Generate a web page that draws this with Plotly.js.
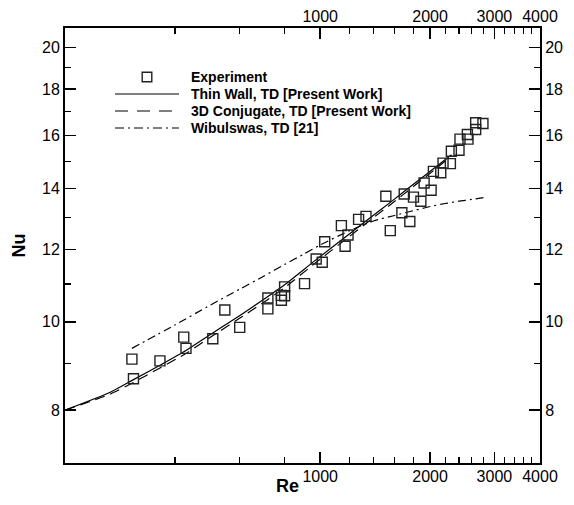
<!DOCTYPE html>
<html>
<head>
<meta charset="utf-8">
<script src="https://cdn.plot.ly/plotly-3.0.1.min.js"></script>
<style>html,body{margin:0;padding:0;background:#fff;}#chart{width:574px;height:505px;}</style>
</head>
<body>
<div id="chart"></div>
<script>
// Experimental data
var expRe = [305, 308, 364, 423, 429, 508, 548, 602, 719, 719, 783, 783, 799, 799, 906, 975, 1013, 1029, 1143, 1170, 1192, 1274, 1335, 1556, 1513, 1674, 1699, 1760, 1801, 1887, 1926, 2013, 2042, 2139, 2170, 2273, 2287, 2400, 2415, 2540, 2530, 2666, 2666, 2791];
var expNu = [9.10, 8.66, 9.06, 9.62, 9.35, 9.58, 10.30, 9.86, 10.62, 10.33, 10.69, 10.56, 10.92, 10.68, 11.01, 11.72, 11.62, 12.24, 12.75, 12.10, 12.45, 12.95, 13.05, 12.59, 13.73, 13.17, 13.81, 12.88, 13.70, 13.56, 14.20, 13.94, 14.62, 14.57, 14.93, 14.91, 15.38, 15.42, 15.86, 15.86, 16.05, 16.25, 16.53, 16.50];

// Thin wall and 3D conjugate curves
var simRe = [200, 266, 308, 364, 429, 499, 600, 719, 799, 975, 1192, 1335, 1578, 1800, 2039, 2290];
var thinNu = [8.00, 8.37, 8.64, 8.96, 9.30, 9.68, 10.15, 10.66, 10.98, 11.70, 12.45, 12.90, 13.58, 14.15, 14.71, 15.25];
var conjNu = [8.00, 8.33, 8.58, 8.90, 9.23, 9.61, 10.08, 10.58, 10.90, 11.62, 12.37, 12.82, 13.50, 14.07, 14.64, 15.20];

// Wibulswas correlation
var wibRe = [305, 400, 500, 600, 700, 800, 900, 1000, 1200, 1400, 1600, 1800, 2000, 2200, 2400, 2600, 2800];
var wibNu = [9.35, 9.92, 10.43, 10.85, 11.22, 11.56, 11.86, 12.14, 12.58, 12.90, 13.08, 13.24, 13.38, 13.48, 13.56, 13.62, 13.68];

// Ticks
var xTickVals = [1000, 2000, 3000, 4000];
var xTickText = ['1000', '2000', '3000', '4000'];
var xMinorVals = [400, 600, 800, 1200, 1400, 1600, 1800, 2200, 2400, 2600, 2800, 3200, 3400, 3600, 3800];
var yTickVals = [8, 10, 12, 14, 16, 18, 20];
var yTickText = ['8', '10', '12', '14', '16', '18', '20'];
var yMinorVals = [9, 11, 13, 15, 17, 19];

var legendLabels = ['Experiment', 'Thin Wall, TD [Present Work]', '3D Conjugate, TD [Present Work]', 'Wibulswas, TD [21]'];
var xTitle = 'Re';
var yTitle = 'Nu';

var FONT = 'Liberation Sans, Arial, Helvetica, sans-serif';
var dashConj = '10px,6px';
var dashWib = '8px,4px,2px,4px';

var traces = [
  {x: simRe, y: thinNu, mode: 'lines', type: 'scatter', line: {color: '#000', width: 1.2, shape: 'spline', smoothing: 0.6}, showlegend: false, hoverinfo: 'skip'},
  {x: simRe, y: conjNu, mode: 'lines', type: 'scatter', line: {color: '#000', width: 1.2, dash: dashConj, shape: 'spline', smoothing: 0.6}, showlegend: false, hoverinfo: 'skip'},
  {x: wibRe, y: wibNu, mode: 'lines', type: 'scatter', line: {color: '#000', width: 1.2, dash: dashWib, shape: 'spline', smoothing: 0.6}, showlegend: false, hoverinfo: 'skip'},
  {x: expRe, y: expNu, mode: 'markers', type: 'scatter', marker: {symbol: 'square-open', size: 10, color: '#222', line: {width: 1.4, color: '#222'}}, showlegend: false},
  {x: expRe, y: expNu, xaxis: 'x2', yaxis: 'y2', mode: 'markers', type: 'scatter', marker: {opacity: 0}, showlegend: false, hoverinfo: 'skip'}
];

var xr = [Math.log10(200), Math.log10(4000)];
var yr = [Math.log10(7), Math.log10(21)];

var axisCommon = {
  showgrid: false, zeroline: false, showline: true, linecolor: '#000', linewidth: 2,
  ticks: 'inside', ticklen: 11, tickwidth: 1.5, tickcolor: '#000',
  tickfont: {family: FONT, size: 16, color: '#000'}
};

var L = 65, R = 540, T = 28, B = 463;
function px(p) { return (p - L) / (R - L); }
function py(p) { return (B - p) / (B - T); }

var shapes = [];
var annotations = [];
var rowY = [77, 94, 111, 128];
// legend square
shapes.push({type: 'rect', xref: 'paper', yref: 'paper', x0: px(142.2), x1: px(151.8), y0: py(rowY[0] + 4.8), y1: py(rowY[0] - 4.8), line: {color: '#222', width: 1.4}});
shapes.push({type: 'line', xref: 'paper', yref: 'paper', x0: px(115), x1: px(179), y0: py(rowY[1]), y1: py(rowY[1]), line: {color: '#000', width: 1.2}});
shapes.push({type: 'line', xref: 'paper', yref: 'paper', x0: px(115), x1: px(179), y0: py(rowY[2]), y1: py(rowY[2]), line: {color: '#000', width: 1.2, dash: '13px,9px'}});
shapes.push({type: 'line', xref: 'paper', yref: 'paper', x0: px(115), x1: px(179), y0: py(rowY[3]), y1: py(rowY[3]), line: {color: '#000', width: 1.2, dash: '9px,4px,2px,4px'}});
for (var i = 0; i < legendLabels.length; i++) {
  annotations.push({xref: 'paper', yref: 'paper', x: px(189), y: py(rowY[i]), xanchor: 'left', yanchor: 'middle', showarrow: false,
    text: '<b>' + legendLabels[i] + '</b>', font: {family: FONT, size: 14, color: '#000'}});
}
// x-axis title (placed close under the axis like the original)
annotations.push({xref: 'paper', yref: 'paper', x: px(300), y: py(486), xanchor: 'right', yanchor: 'middle', showarrow: false,
  borderpad: 0, text: '<b>' + xTitle + '</b>', font: {family: FONT, size: 18, color: '#000'}});

var layout = {
  width: 574, height: 505,
  margin: {l: L, r: 574 - R, t: T, b: 505 - B, pad: 0},
  paper_bgcolor: '#fff', plot_bgcolor: '#fff',
  showlegend: false,
  xaxis: Object.assign({}, axisCommon, {type: 'log', range: xr, tickvals: xTickVals, ticktext: xTickText, ticklabelstandoff: -2,
    minor: {tickvals: xMinorVals, ticks: 'inside', ticklen: 6, tickwidth: 1.2, tickcolor: '#000'}, anchor: 'y'}),
  xaxis2: Object.assign({}, axisCommon, {type: 'log', range: xr, tickvals: xTickVals, ticktext: xTickText, side: 'top', overlaying: 'x', anchor: 'y', ticklabelstandoff: -2,
    minor: {tickvals: xMinorVals, ticks: 'inside', ticklen: 6, tickwidth: 1.2, tickcolor: '#000'}}),
  yaxis: Object.assign({}, axisCommon, {type: 'log', range: yr, tickvals: yTickVals, ticktext: yTickText,
    minor: {tickvals: yMinorVals, ticks: 'inside', ticklen: 6, tickwidth: 1.2, tickcolor: '#000'},
    title: {text: '<b>' + yTitle + '</b>', font: {family: FONT, size: 18, color: '#000'}, standoff: 12}, anchor: 'x'}),
  yaxis2: Object.assign({}, axisCommon, {type: 'log', range: yr, tickvals: yTickVals, ticktext: yTickText, side: 'right', overlaying: 'y', anchor: 'x',
    minor: {tickvals: yMinorVals, ticks: 'inside', ticklen: 6, tickwidth: 1.2, tickcolor: '#000'}}),
  shapes: shapes,
  annotations: annotations
};

Plotly.newPlot('chart', traces, layout, {displayModeBar: false, staticPlot: true});
</script>
</body>
</html>
